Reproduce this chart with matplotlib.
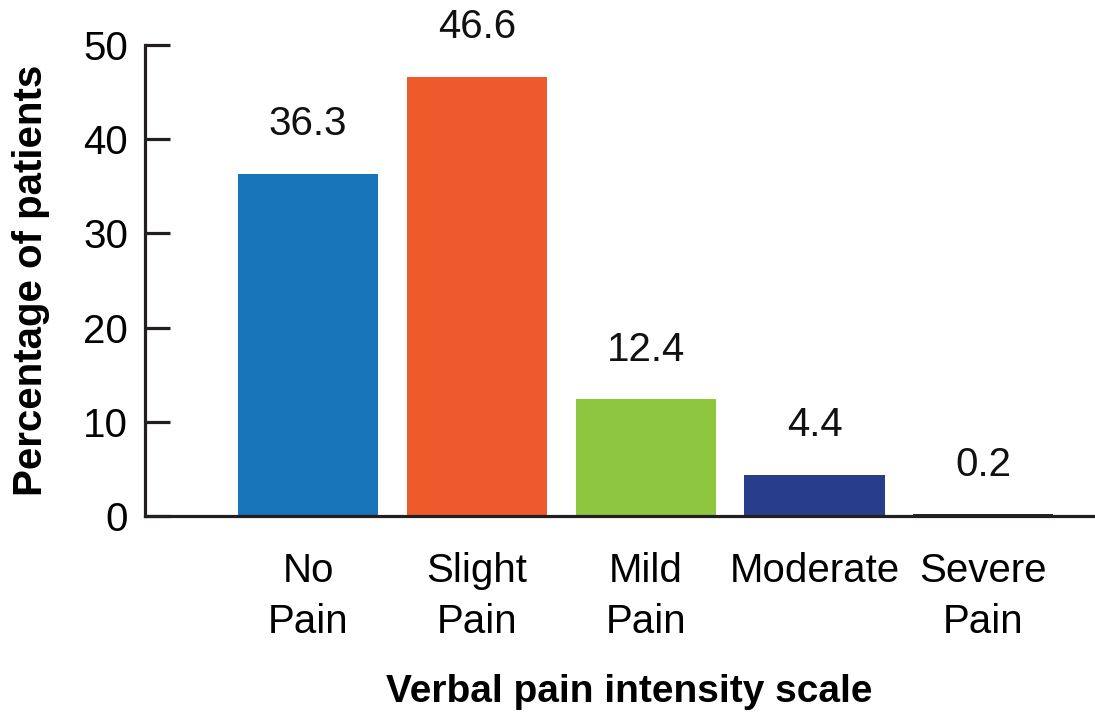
import numpy as np
import matplotlib
matplotlib.use("Agg")
import matplotlib.pyplot as plt

plt.rcParams['font.family'] = ['Liberation Sans', 'DejaVu Sans']

categories = ["No\nPain", "Slight\nPain", "Mild\nPain", "Moderate", "Severe\nPain"]
percent = [36.3, 46.6, 12.4, 4.4, 0.2]
colors = ["#1874b8", "#ee5a2b", "#8dc63f", "#283d8c", "#2a2526"]

axis_col = "#231f20"

fig = plt.figure(figsize=(10.95, 7.16), dpi=100)
ax = fig.add_axes([145/1095, 200/716, 950/1095, 471/716])

x = np.arange(len(categories))
bars = ax.bar(x, percent, width=0.83, color=colors, zorder=1)

for b, v in zip(bars, percent):
    ax.annotate(f"{v:.1f}", (b.get_x() + b.get_width()/2, v),
                xytext=(0, 22), textcoords="offset points",
                ha="center", va="bottom", fontsize=29, color="#111111")

ax.set_xlim(-0.966, 4.662)
ax.set_ylim(0, 50)
ax.set_yticks(range(0, 51, 10))
ax.set_xticks(x)
ax.set_xticklabels(categories, fontsize=29, linespacing=1.42)

for s in ["top", "right"]:
    ax.spines[s].set_visible(False)
for s in ["left", "bottom"]:
    ax.spines[s].set_linewidth(2.3)
    ax.spines[s].set_color(axis_col)

ax.tick_params(axis="y", direction="in", length=18, width=2.3, color=axis_col,
               labelsize=29, pad=12)
ax.tick_params(axis="x", length=0, pad=26)

ax.set_ylabel("Percentage of patients", fontsize=29, fontweight="bold")
ax.yaxis.set_label_coords(-0.1, 0.5)
ax.set_xlabel("Verbal pain intensity scale", fontsize=28, fontweight="bold")
ax.xaxis.set_label_coords(0.51, -0.335)

fig.savefig("out.png", dpi=100)
